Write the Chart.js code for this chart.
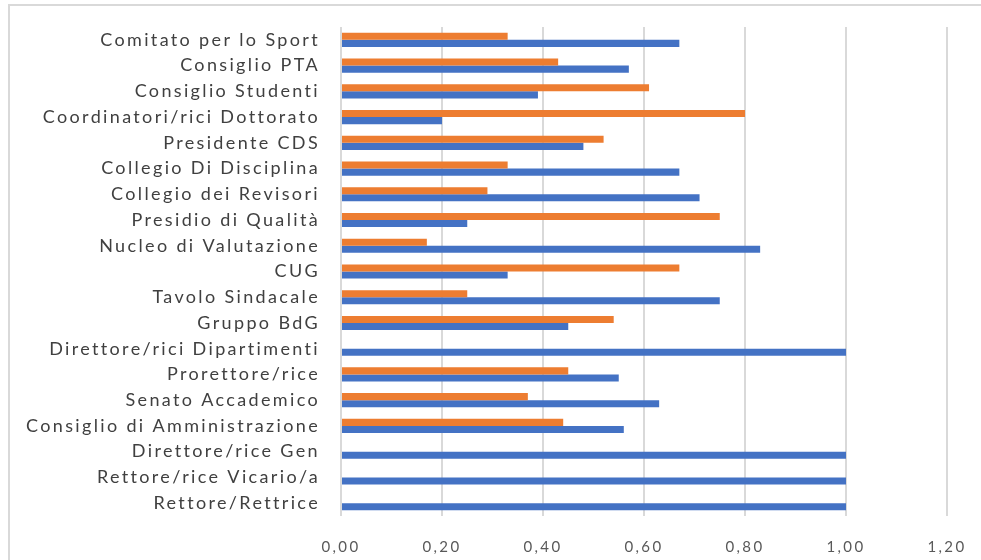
<!DOCTYPE html>
<html lang="it">
<head>
<meta charset="utf-8">
<script src="https://cdn.jsdelivr.net/npm/chart.js@4/dist/chart.umd.min.js"></script>
<style>
  html, body { margin: 0; padding: 0; background: #ffffff; }
  #wrap { position: relative; width: 981px; height: 560px; overflow: hidden; }
  #frame { position: absolute; left: 8px; top: 4px; width: 990px; height: 600px;
           border-top: 2px solid #d9d9d9; border-left: 2px solid #d9d9d9; }
  #chart { position: absolute; left: 0; top: 0; }
</style>
</head>
<body>
<div id="wrap">
  <div id="frame"></div>
  <canvas id="chart" width="981" height="560"></canvas>
</div>
<script>
// Organi e commissioni (dall'alto verso il basso)
const categories = [
  "Comitato per lo Sport",
  "Consiglio PTA",
  "Consiglio Studenti",
  "Coordinatori/rici Dottorato",
  "Presidente CDS",
  "Collegio Di Disciplina",
  "Collegio dei Revisori",
  "Presidio di Qualità",
  "Nucleo di Valutazione",
  "CUG",
  "Tavolo Sindacale",
  "Gruppo BdG",
  "Direttore/rici Dipartimenti",
  "Prorettore/rice",
  "Senato Accademico",
  "Consiglio di Amministrazione",
  "Direttore/rice Gen",
  "Rettore/rice Vicario/a",
  "Rettore/Rettrice"
];

// Quota arancione (barra superiore di ogni gruppo)
const orangeValues = [0.33, 0.43, 0.61, 0.80, 0.52, 0.33, 0.29, 0.75, 0.17, 0.67,
                      0.25, 0.54, 0.00, 0.45, 0.37, 0.44, 0.00, 0.00, 0.00];

// Quota blu (barra inferiore di ogni gruppo)
const blueValues = [0.67, 0.57, 0.39, 0.20, 0.48, 0.67, 0.71, 0.25, 0.83, 0.33,
                    0.75, 0.45, 1.00, 0.55, 0.63, 0.56, 1.00, 1.00, 1.00];

// Valori dell'asse orizzontale
const xTicks = [0, 0.2, 0.4, 0.6, 0.8, 1.0, 1.2];

const LETTER_SPACING = '2.35px';
const spacing = {
  id: 'letterSpacing',
  beforeUpdate(chart) { chart.ctx.letterSpacing = LETTER_SPACING; },
  beforeDraw(chart) { chart.ctx.letterSpacing = LETTER_SPACING; }
};

new Chart(document.getElementById('chart'), {
  type: 'bar',
  data: {
    labels: categories,
    datasets: [
      { data: orangeValues, backgroundColor: '#ED7D31', borderWidth: 0 },
      { data: blueValues, backgroundColor: '#4472C4', borderWidth: 0 }
    ]
  },
  options: {
    indexAxis: 'y',
    responsive: false,
    animation: false,
    events: [],
    layout: { padding: { left: 0, top: 27, right: 34, bottom: 0 } },
    datasets: { bar: { categoryPercentage: 0.55, barPercentage: 1.0 } },
    plugins: { legend: { display: false }, tooltip: { enabled: false } },
    scales: {
      x: {
        min: 0,
        max: 1.2,
        afterBuildTicks(scale) { scale.ticks = xTicks.map(v => ({ value: v })); },
        afterFit(scale) {
          scale.height = 44;
          scale.paddingLeft = 0;
          scale.paddingRight = 0;
        },
        border: { display: false },
        grid: { color: '#d9d9d9', lineWidth: 2, drawTicks: false },
        ticks: {
          padding: 22,
          color: '#595959',
          font: { family: 'Lato', size: 15 },
          callback: v => v.toFixed(2).replace('.', ',')
        }
      },
      y: {
        afterFit(scale) {
          scale.width = 341;
          scale.paddingTop = 0;
          scale.paddingBottom = 0;
        },
        border: { display: false },
        grid: { display: false, drawTicks: false },
        ticks: {
          padding: 21,
          autoSkip: false,
          color: '#404040',
          font: { family: 'Lato', size: 18 }
        }
      }
    }
  },
  plugins: [spacing]
});
</script>
</body>
</html>
